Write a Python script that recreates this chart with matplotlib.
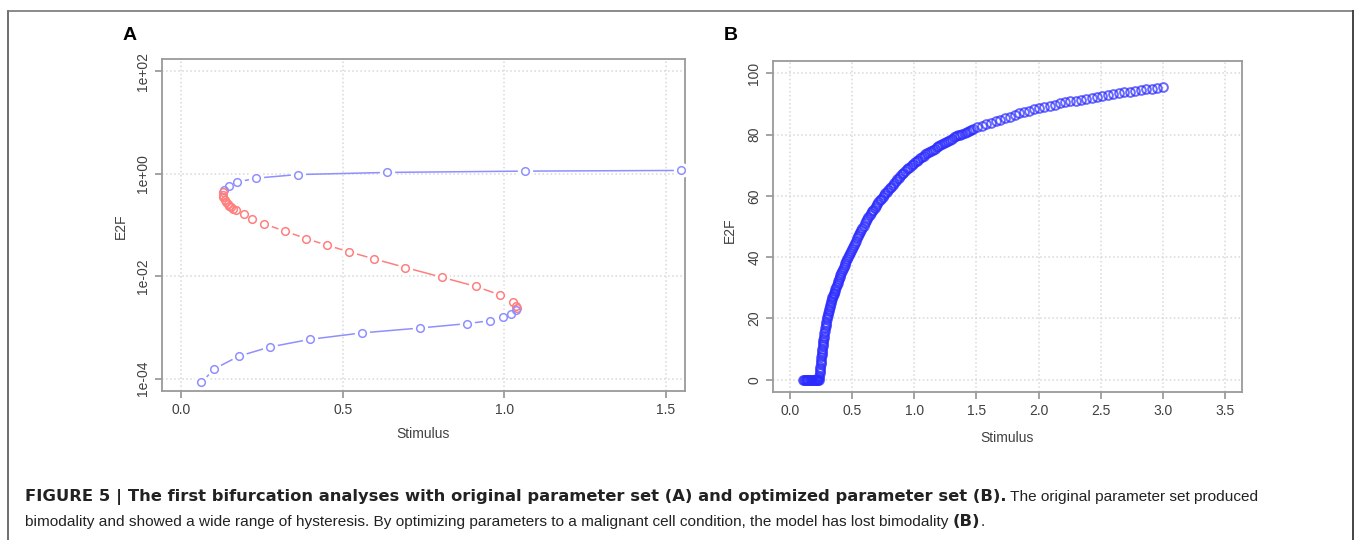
import matplotlib
matplotlib.use('Agg')
import matplotlib.pyplot as plt
from matplotlib.lines import Line2D

plt.rcParams['font.family'] = ['Liberation Sans', 'DejaVu Sans']

# panel A: bifurcation diagram, original parameter set
upper_x = [1.548, 1.065, 0.636, 0.360, 0.232, 0.173, 0.146, 0.132]
upper_y = [1.161, 1.127, 1.062, 0.964, 0.822, 0.687, 0.583, 0.483]

unstable_x = [0.130, 0.128, 0.130, 0.134, 0.139, 0.144, 0.149, 0.155, 0.161, 0.170,
              0.193, 0.220, 0.256, 0.321, 0.385, 0.451, 0.520, 0.598, 0.694, 0.807,
              0.913, 0.988, 1.028, 1.038, 1.041]
unstable_y = [0.432, 0.389, 0.350, 0.310, 0.280, 0.255, 0.237, 0.220, 0.204, 0.192,
              0.163, 0.132, 0.105, 0.0759, 0.0545, 0.0404, 0.0299, 0.0217, 0.0148, 0.00955,
              0.00631, 0.00429, 0.00316, 0.00257, 0.00237]

lower_x = [1.036, 1.022, 0.996, 0.957, 0.886, 0.740, 0.558, 0.399, 0.274, 0.177, 0.102, 0.062]
lower_y = [0.00224, 0.00186, 0.00158, 0.00136, 0.00119, 0.000977, 0.000782, 0.000587,
           0.000416, 0.000274, 0.000155, 0.0000847]

# panel B: optimized parameter set (dense continuation points)
stim_b = [0.100, 0.108, 0.115, 0.123, 0.130, 0.138, 0.145, 0.153, 0.160, 0.168,
          0.175, 0.183, 0.190, 0.198, 0.205, 0.212, 0.218, 0.224,
          0.230, 0.2315, 0.233, 0.235, 0.237, 0.239, 0.241, 0.243, 0.245, 0.247,
          0.249, 0.251, 0.253, 0.255, 0.257, 0.2595, 0.262, 0.2645, 0.267, 0.2695,
          0.272, 0.275, 0.278, 0.281, 0.284, 0.287, 0.290, 0.2935, 0.297, 0.3005,
          0.304, 0.308, 0.312, 0.316, 0.320, 0.3245, 0.329, 0.3335, 0.338, 0.343,
          0.348, 0.353, 0.358, 0.3635, 0.369, 0.3745, 0.380, 0.386, 0.392, 0.398,
          0.404, 0.4105, 0.417, 0.4235, 0.430, 0.437, 0.444, 0.451, 0.458, 0.4655,
          0.473, 0.4805, 0.488, 0.496, 0.504, 0.512, 0.520, 0.5285, 0.537, 0.5455,
          0.554, 0.563, 0.572, 0.581, 0.590, 0.5995, 0.609, 0.6185, 0.628, 0.638,
          0.648, 0.658, 0.668, 0.6785, 0.689, 0.6995, 0.710, 0.721, 0.732, 0.743,
          0.754, 0.7655, 0.777, 0.7885, 0.800, 0.812, 0.824, 0.836, 0.848, 0.8605,
          0.873, 0.8855, 0.898, 0.911, 0.924, 0.937, 0.950, 0.9635, 0.977, 0.9905,
          1.004, 1.018, 1.032, 1.046, 1.060, 1.0745, 1.089, 1.1035, 1.118, 1.133,
          1.148, 1.163, 1.178, 1.1935, 1.209, 1.2245, 1.240, 1.256, 1.272, 1.288,
          1.304, 1.3205, 1.337, 1.3535, 1.370, 1.387, 1.404, 1.421, 1.438, 1.4555,
          1.473, 1.508, 1.544, 1.580, 1.617, 1.654, 1.692, 1.730, 1.768, 1.807,
          1.846, 1.886, 1.926, 1.966, 2.007, 2.048, 2.089, 2.131, 2.173, 2.215,
          2.257, 2.300, 2.343, 2.386, 2.429, 2.472, 2.515, 2.559, 2.603, 2.647,
          2.691, 2.735, 2.779, 2.823, 2.868, 2.913, 2.958, 3.003]
e2f_b = [0, 0, 0, 0, 0, 0, 0, 0, 0, 0,
         0, 0, 0, 0, 0, 0, 0, 0,
         0.0, 0.65, 1.3, 2.05, 2.8, 3.55, 4.3, 5.05, 5.8, 6.55,
         7.3, 8.0, 8.7, 9.4, 10.1, 10.85, 11.6, 12.3, 13.0, 13.7,
         14.4, 15.2, 16.0, 16.75, 17.5, 18.25, 19.0, 19.8, 20.6, 21.2,
         21.8, 22.45, 23.1, 23.75, 24.4, 25.05, 25.7, 26.3, 26.9, 27.4,
         27.9, 28.45, 29.0, 29.65, 30.3, 30.9, 31.5, 32.15, 32.8, 33.45,
         34.1, 34.75, 35.4, 36.05, 36.7, 37.35, 38.0, 38.65, 39.3, 39.95,
         40.6, 41.25, 41.9, 42.6, 43.3, 44.0, 44.7, 45.4, 46.1, 46.8,
         47.5, 48.2, 48.9, 49.6, 50.3, 51.0, 51.7, 52.35, 53.0, 53.65,
         54.3, 54.9, 55.5, 56.1, 56.7, 57.3, 57.9, 58.5, 59.1, 59.7,
         60.3, 60.85, 61.4, 61.95, 62.5, 63.05, 63.6, 64.15, 64.75, 65.35,
         65.95, 66.55, 67.1, 67.6, 68.1, 68.6, 69.1, 69.55, 70.0, 70.45,
         70.9, 71.35, 71.8, 72.2, 72.6, 73.05, 73.5, 73.9, 74.3, 74.65,
         75.0, 75.4, 75.8, 76.2, 76.6, 76.95, 77.3, 77.65, 78.0, 78.35,
         78.7, 79.05, 79.4, 79.7, 80.0, 80.3, 80.6, 80.9, 81.2, 81.5,
         81.8, 82.4, 82.9, 83.4, 83.9, 84.4, 84.9, 85.4, 85.8, 86.3,
         86.9, 87.4, 87.8, 88.2, 88.6, 89.0, 89.4, 89.8, 90.2, 90.5,
         90.8, 91.1, 91.4, 91.7, 92.0, 92.3, 92.7, 93.0, 93.3, 93.5,
         93.8, 94.0, 94.3, 94.5, 94.8, 95.0, 95.2, 95.5]

W, H = 1355, 540
fig = plt.figure(figsize=(W / 100, H / 100), dpi=100)


def box(l, t, r, b):
    return [l / W, 1 - b / H, (r - l) / W, (b - t) / H]


def r_style(ax):
    for s in ax.spines.values():
        s.set_color('#9a9a9a')
        s.set_linewidth(1.3)
    ax.tick_params(direction='out', length=5, width=1.1, color='#8a8a8a',
                   labelcolor='#404040', labelsize=10)
    ax.tick_params(axis='y', labelrotation=90)
    for lab in ax.get_yticklabels():
        lab.set_va('center')
    ax.grid(True, color='#d8d8d8', linestyle=':', linewidth=1.1)
    ax.set_axisbelow(True)


axA = fig.add_axes(box(162, 59, 685, 391))
axA.set_yscale('log')
axA.set_xlim(-0.06, 1.56)
axA.set_ylim(10 ** -4.24, 10 ** 2.24)
axA.set_xticks([0.0, 0.5, 1.0, 1.5], ['0.0', '0.5', '1.0', '1.5'])
axA.set_yticks([1e-4, 1e-2, 1e0, 1e2], ['1e-04', '1e-02', '1e+00', '1e+02'])
axA.minorticks_off()
r_style(axA)

blue_a = '#8f8fff'
red_a = '#ff7f7f'
branches = [(upper_x, upper_y, blue_a), (unstable_x, unstable_y, red_a), (lower_x, lower_y, blue_a)]
# lines first, then white gaps round the points (like R type="b"), then the circles
for xs, ys, c in branches:
    axA.plot(xs, ys, color=c, lw=1.1, zorder=2)
for xs, ys, c in branches:
    axA.plot(xs, ys, 'o', ms=10, mfc='white', mec='white', zorder=3)
for xs, ys, c in branches:
    axA.plot(xs, ys, 'o', ms=5.5, mfc='none', mec=c, mew=1.1, zorder=4)

axB = fig.add_axes(box(773, 61, 1242, 392))
axB.set_xlim(-0.14, 3.64)
axB.set_ylim(-4, 104)
axB.set_xticks([0.0, 0.5, 1.0, 1.5, 2.0, 2.5, 3.0, 3.5])
axB.set_yticks([0, 20, 40, 60, 80, 100])
r_style(axB)
axB.plot(stim_b, e2f_b, 'o', ms=6.3, mfc='none', mec='#2b2bff', mew=1.4, alpha=0.7)


def ftext(x, y, s, **kw):
    return fig.text(x / W, 1 - y / H, s, **kw)


ftext(423, 434, 'Stimulus', ha='center', va='center', fontsize=10, color='#404040')
ftext(121, 226, 'E2F', ha='center', va='center', fontsize=10, color='#404040', rotation=90)
ftext(1007, 438, 'Stimulus', ha='center', va='center', fontsize=10, color='#404040')
ftext(730, 230, 'E2F', ha='center', va='center', fontsize=10, color='#404040', rotation=90)

ftext(130, 35, 'A', ha='center', va='center', fontsize=14, fontweight='bold')
ftext(731, 35, 'B', ha='center', va='center', fontsize=14, fontweight='bold')

# frame round the figure (open at the bottom)
fig.add_artist(Line2D([8 / W, 8 / W], [0, 1 - 11 / H], color='#555555', lw=1.2, transform=fig.transFigure))
fig.add_artist(Line2D([8 / W, 1353 / W], [1 - 11 / H, 1 - 11 / H], color='#777777', lw=1.2, transform=fig.transFigure))
fig.add_artist(Line2D([1353 / W, 1353 / W], [0, 1 - 11 / H], color='#444444', lw=1.4, transform=fig.transFigure))

# caption with mixed bold / regular runs
renderer = fig.canvas.get_renderer()


def caption_line(y, runs):
    x = 25
    for s, bold in runs:
        if bold:
            t = ftext(x, y, s, ha='left', va='baseline', fontsize=11.75, fontweight='bold',
                      family=['DejaVu Sans'], color='#222222')
        else:
            t = ftext(x, y, s, ha='left', va='baseline', fontsize=11.1, color='#222222')
        x += t.get_window_extent(renderer=renderer).width


caption_line(501, [('FIGURE 5 | The first bifurcation analyses with original parameter set (A) and optimized parameter set (B).', True),
                   (' The original parameter set produced', False)])
caption_line(526, [('bimodality and showed a wide range of hysteresis. By optimizing parameters to a malignant cell condition, the model has lost bimodality ', False),
                   ('(B)', True), ('.', False)])

fig.savefig('out.png', dpi=100)
